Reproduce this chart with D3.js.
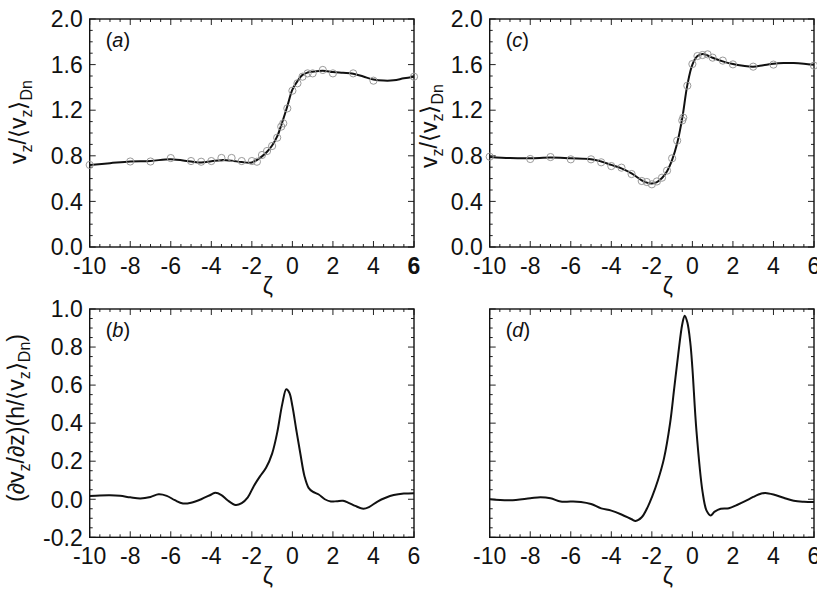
<!DOCTYPE html>
<html>
<head>
<meta charset="utf-8">
<script src="https://cdn.jsdelivr.net/npm/d3@7"></script>
<style>
  html, body { margin: 0; padding: 0; background: #fff; }
  svg { display: block; }
  text { font-family: "Liberation Sans", Arial, Helvetica, sans-serif; fill: #111; }
</style>
</head>
<body>
<svg id="chart" width="817" height="605"></svg>
<script>
// ---------- DATA ----------
const xTicks = [-10, -8, -6, -4, -2, 0, 2, 4, 6];
const yTicksTop = [0.0, 0.4, 0.8, 1.2, 1.6, 2.0];
const yTicksBottom = [-0.2, 0.0, 0.2, 0.4, 0.6, 0.8, 1.0];

// Panel (a): smooth curve
const aLineZeta = [-10, -9, -8, -7, -6, -5, -4.5, -4, -3.5, -3, -2.5, -2, -1.5, -1.25, -1, -0.75, -0.5, -0.25, 0, 0.25, 0.5, 0.75, 1, 1.5, 2, 2.5, 3, 3.5, 4, 4.5, 5, 5.5, 6];
const aLineV    = [0.72, 0.735, 0.75, 0.755, 0.77, 0.75, 0.742, 0.752, 0.762, 0.757, 0.745, 0.742, 0.795, 0.835, 0.89, 0.97, 1.095, 1.235, 1.38, 1.455, 1.51, 1.53, 1.538, 1.547, 1.535, 1.528, 1.52, 1.495, 1.47, 1.46, 1.462, 1.48, 1.494];
// Panel (a): open circles
const aPtsZeta = [-10, -8, -7, -6, -5, -4.5, -4, -3.5, -3, -2.5, -2, -1.75, -1.5, -1.25, -1, -0.75, -0.55, -0.45, -0.25, 0, 0.25, 0.5, 0.75, 1, 1.5, 2, 3, 4, 6];
const aPtsV    = [0.72, 0.75, 0.75, 0.78, 0.754, 0.748, 0.754, 0.781, 0.781, 0.754, 0.754, 0.748, 0.807, 0.842, 0.886, 0.959, 1.056, 1.085, 1.216, 1.371, 1.436, 1.494, 1.523, 1.523, 1.553, 1.523, 1.523, 1.459, 1.494];

// Panel (c): smooth curve
const cLineZeta = [-10, -9, -8, -7, -6, -5, -4.5, -4, -3.5, -3, -2.5, -2.25, -2, -1.75, -1.5, -1.25, -1, -0.75, -0.5, -0.25, 0, 0.25, 0.5, 0.75, 1, 1.5, 2, 2.5, 3, 3.5, 4, 4.5, 5, 5.5, 6];
const cLineV    = [0.79, 0.78, 0.778, 0.785, 0.778, 0.77, 0.75, 0.72, 0.69, 0.645, 0.585, 0.565, 0.558, 0.57, 0.605, 0.665, 0.765, 0.91, 1.13, 1.42, 1.6, 1.675, 1.693, 1.68, 1.66, 1.628, 1.605, 1.59, 1.582, 1.595, 1.608, 1.614, 1.614, 1.608, 1.598];
// Panel (c): open circles
const cPtsZeta = [-10, -8, -7, -6, -5, -4.5, -4, -3.5, -3, -2.5, -2.25, -2, -1.75, -1.5, -1.25, -1, -0.75, -0.5, -0.45, -0.25, 0, 0.25, 0.5, 0.75, 1, 1.5, 2, 3, 4, 6];
const cPtsV    = [0.792, 0.772, 0.789, 0.769, 0.769, 0.743, 0.71, 0.696, 0.64, 0.579, 0.57, 0.55, 0.575, 0.608, 0.67, 0.778, 0.933, 1.11, 1.135, 1.415, 1.605, 1.675, 1.684, 1.69, 1.661, 1.635, 1.602, 1.582, 1.6, 1.591];

// Panel (b): gradient curve
const bZeta = [-10, -9.5, -9, -8.5, -8, -7.5, -7, -6.6, -6.2, -5.8, -5.4, -5, -4.5, -4, -3.8, -3.5, -3.2, -2.8, -2.5, -2.2, -1.9, -1.6, -1.3, -1, -0.75, -0.5, -0.3, -0.15, 0, 0.2, 0.4, 0.6, 0.8, 1, 1.3, 1.6, 1.9, 2.2, 2.5, 2.8, 3.1, 3.5, 3.8, 4.2, 4.6, 5, 5.5, 6];
const bV    = [0.017, 0.02, 0.021, 0.018, 0.01, 0.004, 0.012, 0.026, 0.018, -0.005, -0.022, -0.018, 0.0, 0.025, 0.034, 0.022, -0.005, -0.03, -0.02, 0.01, 0.07, 0.12, 0.165, 0.24, 0.35, 0.5, 0.578, 0.56, 0.49, 0.36, 0.235, 0.12, 0.06, 0.04, 0.025, 0.0, -0.012, -0.01, -0.008, -0.02, -0.035, -0.05, -0.04, -0.012, 0.008, 0.022, 0.03, 0.032];

// Panel (d): gradient curve
const dZeta = [-10, -9, -8, -7.5, -7, -6.5, -6, -5.5, -5, -4.5, -4, -3.5, -3, -2.8, -2.5, -2.2, -2, -1.7, -1.4, -1.1, -0.9, -0.7, -0.5, -0.38, -0.25, -0.1, 0, 0.2, 0.5, 0.7, 0.9, 1.1, 1.4, 1.8, 2.2, 2.6, 3, 3.4, 3.6, 4, 4.5, 5, 5.5, 6];
const dV    = [0.0, -0.005, 0.005, 0.01, 0.005, -0.012, -0.012, -0.014, -0.025, -0.048, -0.06, -0.08, -0.105, -0.114, -0.095, -0.04, 0.01, 0.1, 0.215, 0.4, 0.58, 0.76, 0.92, 0.965, 0.93, 0.82, 0.69, 0.36, 0.04, -0.06, -0.085, -0.065, -0.05, -0.047, -0.03, -0.01, 0.012, 0.03, 0.033, 0.025, 0.008, -0.008, -0.013, -0.014];

// ---------- DRAWING ----------
const svg = d3.select("#chart");
const FONT = 23;
const SUB = 16;

const panels = [
  { id: "a", x0: 89.7, x1: 414, y0: 19, y1: 247, yDom: [0, 2], yTicks: yTicksTop, yMinor: 0.1,
    line: [aLineZeta, aLineV], pts: [aPtsZeta, aPtsV], yLabels: true, boldLast: true, ylab: "top", ylabX: 26, ylabY: 122 },
  { id: "c", x0: 489.7, x1: 814, y0: 19, y1: 247, yDom: [0, 2], yTicks: yTicksTop, yMinor: 0.1,
    line: [cLineZeta, cLineV], pts: [cPtsZeta, cPtsV], yLabels: true, boldLast: false, ylab: "top", ylabX: 437, ylabY: 126 },
  { id: "b", x0: 89.7, x1: 414, y0: 309, y1: 537.3, yDom: [-0.2, 1.0], yTicks: yTicksBottom, yMinor: 0.05,
    line: [bZeta, bV], pts: null, yLabels: true, boldLast: false, ylab: "bottom", ylabX: 24, ylabY: 418 },
  { id: "d", x0: 489.7, x1: 814, y0: 309, y1: 537.3, yDom: [-0.2, 1.0], yTicks: yTicksBottom, yMinor: 0.05,
    line: [dZeta, dV], pts: null, yLabels: false, boldLast: false, ylab: null }
];

function range(a, b, step) {
  const out = [];
  const n = Math.round((b - a) / step);
  for (let i = 0; i <= n; i++) out.push(+(a + i * step).toFixed(6));
  return out;
}

panels.forEach(p => {
  const x = d3.scaleLinear().domain([-10, 6]).range([p.x0, p.x1]);
  const y = d3.scaleLinear().domain(p.yDom).range([p.y1, p.y0]);
  const g = svg.append("g");

  const xMinor = range(-10, 6, 0.5).filter(v => !xTicks.includes(v));
  const yMinor = range(p.yDom[0], p.yDom[1], p.yMinor).filter(v => !p.yTicks.some(t => Math.abs(t - v) < 1e-6));
  const MAJ = 6, MIN = 3;

  // ticks inward on all four sides
  const tg = g.append("g").attr("stroke", "#222").attr("stroke-width", 1);
  xTicks.forEach(t => {
    tg.append("line").attr("x1", x(t)).attr("x2", x(t)).attr("y1", p.y1).attr("y2", p.y1 - MAJ);
    tg.append("line").attr("x1", x(t)).attr("x2", x(t)).attr("y1", p.y0).attr("y2", p.y0 + MAJ);
  });
  xMinor.forEach(t => {
    tg.append("line").attr("x1", x(t)).attr("x2", x(t)).attr("y1", p.y1).attr("y2", p.y1 - MIN);
    tg.append("line").attr("x1", x(t)).attr("x2", x(t)).attr("y1", p.y0).attr("y2", p.y0 + MIN);
  });
  p.yTicks.forEach(t => {
    tg.append("line").attr("y1", y(t)).attr("y2", y(t)).attr("x1", p.x0).attr("x2", p.x0 + MAJ);
    tg.append("line").attr("y1", y(t)).attr("y2", y(t)).attr("x1", p.x1).attr("x2", p.x1 - MAJ);
  });
  yMinor.forEach(t => {
    tg.append("line").attr("y1", y(t)).attr("y2", y(t)).attr("x1", p.x0).attr("x2", p.x0 + MIN);
    tg.append("line").attr("y1", y(t)).attr("y2", y(t)).attr("x1", p.x1).attr("x2", p.x1 - MIN);
  });

  // frame
  g.append("rect").attr("x", p.x0).attr("y", p.y0).attr("width", p.x1 - p.x0).attr("height", p.y1 - p.y0)
    .attr("fill", "none").attr("stroke", "#111").attr("stroke-width", 1.4);

  // x tick labels
  xTicks.forEach((t, i) => {
    g.append("text").attr("x", x(t)).attr("y", p.y1 + 27).attr("text-anchor", "middle")
      .attr("font-size", FONT)
      .attr("font-weight", (p.boldLast && i === xTicks.length - 1) ? "bold" : "normal")
      .text(String(t));
  });
  // y tick labels
  if (p.yLabels) {
    p.yTicks.forEach(t => {
      g.append("text").attr("x", p.x0 - 7).attr("y", y(t)).attr("dy", "0.36em").attr("text-anchor", "end")
        .attr("font-size", FONT).text(t.toFixed(1));
    });
  }
  // x label
  g.append("text").attr("x", (p.x0 + p.x1) / 2 + 16).attr("y", p.y1 + 47).attr("text-anchor", "middle")
    .attr("font-size", FONT).text("ζ");

  // panel label
  const pl = g.append("text").attr("x", p.x0 + 16).attr("y", p.y0 + 28).attr("font-size", 20);
  pl.append("tspan").text("(");
  pl.append("tspan").attr("font-style", "italic").text(p.id);
  pl.append("tspan").text(")");

  // y label
  if (p.ylab) {
    const t = g.append("text").attr("transform", `translate(${p.ylabX},${p.ylabY}) rotate(-90)`)
      .attr("text-anchor", "middle").attr("font-size", FONT);
    const sub = (s) => t.append("tspan").attr("font-size", SUB).attr("dy", 6).text(s);
    const norm = (s) => t.append("tspan").attr("dy", -6).text(s);
    if (p.ylab === "top") {
      t.append("tspan").text("v");
      sub("z");
      norm("/⟨v");
      sub("z");
      norm("⟩");
      sub("Dn");
    } else {
      t.append("tspan").text("(∂v");
      sub("z");
      norm("/∂z)(h/⟨v");
      sub("z");
      norm("⟩");
      sub("Dn");
      norm(")");
    }
  }

  // curve
  const lineData = p.line[0].map((z, i) => [z, p.line[1][i]]);
  const lineGen = d3.line().x(d => x(d[0])).y(d => y(d[1])).curve(d3.curveCatmullRom.alpha(0.5));
  g.append("path").datum(lineData).attr("d", lineGen).attr("fill", "none")
    .attr("stroke", "#111").attr("stroke-width", 2);

  // circles
  if (p.pts) {
    const ptData = p.pts[0].map((z, i) => [z, p.pts[1][i]]);
    g.append("g").selectAll("circle").data(ptData).join("circle")
      .attr("cx", d => x(d[0])).attr("cy", d => y(d[1])).attr("r", 3.6)
      .attr("fill", "none").attr("stroke", "#9a9a9a").attr("stroke-width", 1);
  }
});
</script>
</body>
</html>
